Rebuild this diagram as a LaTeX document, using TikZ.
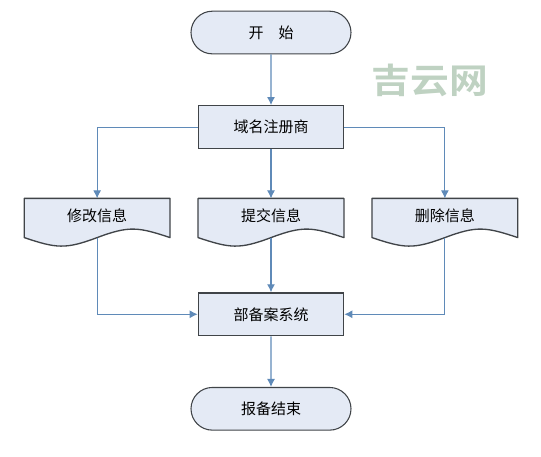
\documentclass[tikz,border=0pt]{standalone}
\usepackage{fontspec}
\setmainfont{Noto Sans CJK SC}
\newfontfamily\markfont[FakeStretch=1.12]{Noto Sans CJK SC Bold}
\usetikzlibrary{arrows.meta,positioning,shapes.misc,backgrounds}
\definecolor{boxfill}{HTML}{E4EAF5}
\definecolor{boxline}{HTML}{404448}
\definecolor{arrline}{HTML}{5F8AB8}
\definecolor{markgreen}{HTML}{BFD2C2}
% wavy lower edge behind a named node
\newcommand{\docshape}[1]{%
  \begin{pgfonlayer}{background}
    \draw[boxline, fill=boxfill, line width=1pt, line join=round]
      (#1.south west) -- (#1.north west) -- (#1.north east) -- (#1.south east)
      .. controls +(-24pt,8pt) and +(24pt,9pt) .. (#1.south)
      .. controls +(-24pt,-9pt) and +(24pt,-8pt) .. cycle;
  \end{pgfonlayer}}

\begin{document}
\begin{tikzpicture}[
  node distance=38pt and 21pt,
  term/.style={draw=boxline, fill=boxfill, rounded rectangle, line width=.8pt, minimum width=120pt, minimum height=32pt, inner sep=0pt, font=\fontsize{11.25pt}{13pt}\selectfont},
  box/.style={draw=boxline, fill=boxfill, line width=1pt, minimum width=109pt, minimum height=32pt, inner sep=0pt, font=\fontsize{11.25pt}{13pt}\selectfont},
  doc/.style={minimum width=109pt, minimum height=29pt, inner sep=0pt, font=\fontsize{11.25pt}{13pt}\selectfont},
  arr/.style={-{Latex[length=6pt,width=6pt]}, arrline, line width=.8pt}
]
\useasboundingbox (0,0) rectangle (405.75pt,-342pt);
\node[term] (start) at (203.25pt,-24.4pt) {开\hspace{1em}始};
\node[box, below=of start] (registrar) {域名注册商};
\node[doc, below=37pt of registrar] (submit) {\raisebox{5pt}{提交信息}};
\node[doc, left=of submit] (modify) {\raisebox{5pt}{修改信息}};
\node[doc, right=of submit] (remove) {\raisebox{5pt}{删除信息}};
\node[box, below=41pt of submit] (system) {部备案系统};
\node[term, below=of system] (finish) {报备结束};
\node[text=markgreen, font=\markfont\fontsize{26pt}{28pt}\selectfont, inner sep=0pt] (mark) at (322.5pt,-60pt) {吉云网};
\docshape{modify}
\docshape{submit}
\docshape{remove}
\draw[arr] (start) -- (registrar);
\draw[arr] (registrar) -| (modify);
\draw[arr] (registrar) -- (submit);
\draw[arr] (registrar) -| (remove);
\draw[arr] (modify) |- (system);
\draw[arr] (submit) -- (system);
\draw[arr] (remove) |- (system);
\draw[arr] (system) -- (finish);
\end{tikzpicture}
\end{document}
